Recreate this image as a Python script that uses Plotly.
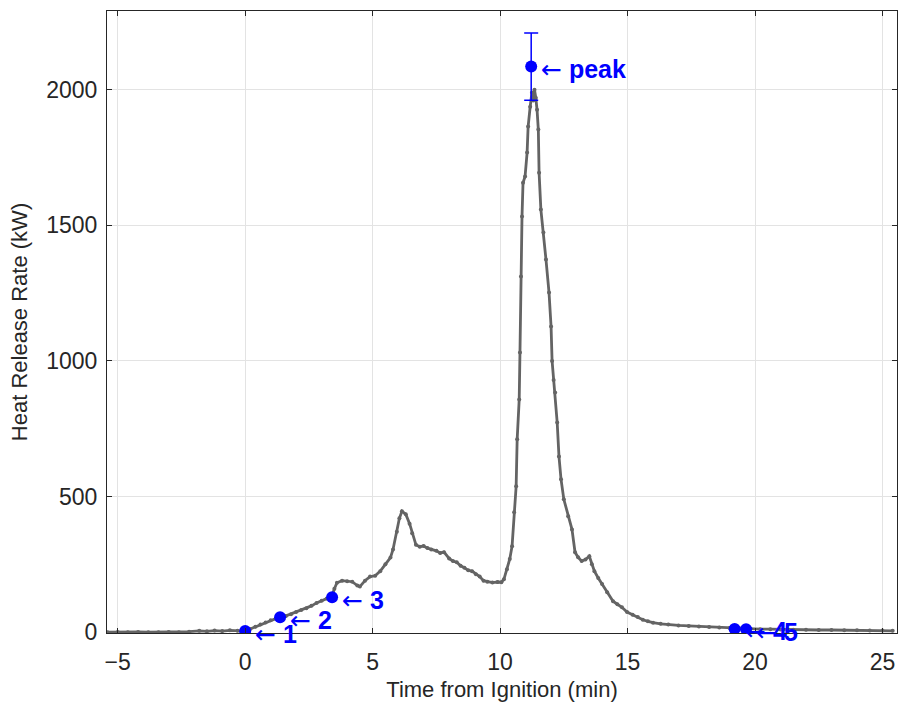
import plotly.graph_objects as go

# Heat release rate curve (time in min, HRR in kW)
time_min = [-5.4, -5.0, -4.6, -4.2, -3.8, -3.4, -3.0, -2.6, -2.2,
            -1.8, -1.5, -1.2, -0.9, -0.6, -0.3, 0.0,
            0.2, 0.4, 0.6, 0.8, 1.0, 1.2, 1.4, 1.6, 1.8, 2.0, 2.2, 2.4, 2.6, 2.8, 3.0, 3.2, 3.4,
            3.5, 3.6, 3.8, 4.0, 4.2, 4.4, 4.5, 4.7, 4.9, 5.1, 5.3, 5.5, 5.7, 5.8, 5.95, 6.05, 6.15,
            6.3, 6.45, 6.55, 6.7, 6.85, 7.0, 7.15, 7.3, 7.5, 7.65, 7.8, 8.0, 8.15, 8.3, 8.45, 8.6,
            8.75, 8.9, 9.05, 9.2, 9.35, 9.5, 9.7, 9.9, 10.05, 10.15, 10.27, 10.38, 10.47, 10.55,
            10.63, 10.67, 10.75, 10.78, 10.82, 10.86, 10.9, 10.98, 11.06, 11.1, 11.18, 11.25, 11.3,
            11.35, 11.4, 11.45, 11.5, 11.53, 11.6, 11.7, 11.8, 11.92, 12.0, 12.04, 12.1, 12.16,
            12.24, 12.31, 12.39, 12.5, 12.67, 12.82, 12.94, 13.06, 13.2, 13.35, 13.5, 13.6, 13.7,
            13.85, 14.0, 14.2, 14.43, 14.6, 14.78, 14.98, 15.2, 15.4, 15.6, 15.8, 16.0, 16.3, 16.6,
            17.0, 17.4, 17.8, 18.2, 18.6, 19.0, 19.4, 19.8, 20.2, 20.6, 21.0, 21.5, 22.0, 22.5,
            23.0, 23.5, 24.0, 24.5, 25.0, 25.4]
hrr_kw = [0, 1, 0, 1, 0, 0, 1, 0, 2,
          5, 3, 6, 4, 7, 5, 4,
          12, 20, 28, 36, 44, 50, 53, 60, 66, 74, 82, 88, 97, 108, 116, 124, 132,
          160, 182, 190, 188, 186, 172, 168, 190, 205, 208, 225, 250, 275, 305, 370, 420, 446,
          435, 400, 365, 322, 315, 318, 310, 305, 300, 292, 295, 272, 262, 258, 245, 238,
          228, 225, 214, 205, 190, 186, 183, 185, 184, 195, 232, 270, 317, 442,
          538, 711, 858, 1031, 1311, 1532, 1657, 1680, 1768, 1864, 1937, 1990, 1960,
          2000, 1970, 1926, 1853, 1694, 1558, 1473, 1374, 1252, 1127, 1000, 930, 884,
          773, 648, 564, 490, 427, 379, 295, 276, 262, 268, 280, 250, 225,
          200, 178, 147, 114, 103, 92, 74, 64, 56, 46, 40, 35, 31, 28,
          25, 23, 21, 19, 17, 15, 14, 12, 11, 11, 10, 9, 9, 8,
          8, 7, 7, 6, 6, 5]

# Labelled event points
event_t = [0.0, 1.37, 3.41, 19.2, 19.65]
event_hrr = [4, 55, 129, 12, 11]
event_labels = ["1", "2", "3", "4", "5"]

# Peak with uncertainty
peak_t = [11.22]
peak_hrr = [2085]
peak_err = [124]
peak_label = "peak"

x_ticks = [-5, 0, 5, 10, 15, 20, 25]
y_ticks = [0, 500, 1000, 1500, 2000]

BLUE = "rgb(0,0,255)"
GRAY = "rgb(100,100,100)"
AX = "#262626"
FONT = "Liberation Sans, Arial, Helvetica, sans-serif"

fig = go.Figure()
fig.add_trace(go.Scatter(
    x=time_min, y=hrr_kw, mode="lines+markers",
    line=dict(color=GRAY, width=2.8),
    marker=dict(color=GRAY, size=4),
    showlegend=False, hoverinfo="skip"))

fig.add_trace(go.Scatter(
    x=event_t, y=event_hrr, mode="markers",
    marker=dict(color=BLUE, size=12),
    showlegend=False))

fig.add_trace(go.Scatter(
    x=peak_t, y=peak_hrr, mode="markers",
    marker=dict(color=BLUE, size=12),
    error_y=dict(type="data", array=peak_err, color=BLUE, thickness=1.5, width=7),
    showlegend=False))

for t, h, lab in zip(event_t + peak_t, event_hrr + peak_hrr, event_labels + [peak_label]):
    fig.add_annotation(
        x=t, y=h, xref="x", yref="y", showarrow=False,
        xanchor="left", yanchor="middle", xshift=8, yshift=-3,
        text="<span style='font-family:DejaVu Sans;font-weight:normal'>\u2190</span> <b>" + lab + "</b>",
        font=dict(family=FONT, size=25, color=BLUE))

axis_common = dict(
    showgrid=True, gridcolor="#e3e3e3", gridwidth=1,
    showline=True, linecolor=AX, linewidth=1, mirror="ticks",
    ticks="inside", ticklen=5, tickcolor=AX, tickwidth=1,
    zeroline=False,
    tickfont=dict(family=FONT, size=23, color=AX),
)

fig.update_xaxes(range=[-5.42, 25.57], tickvals=x_ticks, ticklabelstandoff=8,
                 title=dict(text="Time from Ignition (min)", standoff=8,
                            font=dict(family=FONT, size=22, color=AX)),
                 **axis_common)
fig.update_yaxes(range=[-3, 2290], tickvals=y_ticks, ticklabelstandoff=4,
                 title=dict(text="Heat Release Rate (kW)", standoff=12,
                            font=dict(family=FONT, size=22, color=AX)),
                 **axis_common)

fig.update_layout(
    width=898, height=704,
    margin=dict(l=107, r=1, t=11, b=71),
    paper_bgcolor="white", plot_bgcolor="white",
    font=dict(family=FONT, color=AX),
)

fig.write_html(
    "out.html",
    config={"displayModeBar": False},
    post_script="document.body.style.margin='0';document.body.style.overflow='hidden';",
)
